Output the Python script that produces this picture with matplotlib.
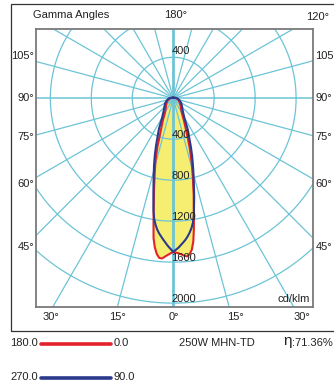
import numpy as np
import matplotlib
matplotlib.use("Agg")
import matplotlib.pyplot as plt
from matplotlib.lines import Line2D
from matplotlib.patches import Rectangle

plt.rcParams["font.family"] = ["Liberation Sans", "DejaVu Sans"]

# ── data (cd/klm vs gamma angle) ─────────────────────────
gamma = [0, 2, 4, 5, 6, 7, 8, 9, 10, 12, 14, 16, 18, 20, 25, 30,
         40, 50, 60, 75, 90, 120, 150, 180]

c0   = [1500, 1515, 1540, 1550, 1530, 1490, 1410, 1290, 1160, 960, 790, 655,
        530, 420, 255, 170, 115, 90, 70, 50, 30, 10, 5, 5]
c180 = [1500, 1530, 1568, 1565, 1530, 1470, 1380, 1230, 1100, 900, 745, 625,
        500, 380, 240, 160, 110, 90, 70, 50, 30, 10, 5, 5]
c90  = [1500, 1460, 1410, 1385, 1355, 1320, 1280, 1230, 1160, 985, 830, 705,
        600, 505, 335, 215, 140, 110, 90, 60, 40, 12, 6, 5]
c270 = [1500, 1445, 1385, 1355, 1325, 1290, 1245, 1190, 1110, 930, 790, 680,
        580, 490, 330, 215, 140, 110, 90, 60, 40, 12, 6, 5]

rings = [400, 800, 1200, 1600, 2000]
left_labels = ["105°", "90°", "75°", "60°", "45°"]
bottom_labels = ["30°", "15°", "0°", "15°", "30°"]
lamp = "250W MHN-TD"
efficiency = ":71.36%"

GRID = "#6cc4d6"
RED = "#e2222b"
BLUE = "#2c3a8e"
YELLOW = "#f6ee70"

W, H = 334, 390


def px(x, y):
    """pixel coords (top-left origin) -> figure fraction"""
    return x / W, 1 - y / H


def curve(left, right):
    g = np.radians(gamma)
    l = np.asarray(left, float)
    r = np.asarray(right, float)
    xl, yl = -l * np.sin(g), -l * np.cos(g)
    xr, yr = r * np.sin(g), -r * np.cos(g)
    return np.r_[xl[::-1], xr], np.r_[yl[::-1], yr]


fig = plt.figure(figsize=(W / 100, H / 100), dpi=100)

# outer frame
fig.add_artist(Rectangle(px(11, 330.7), 1.0, (330.7 - 4) / H,
                         transform=fig.transFigure, fill=False,
                         edgecolor="#333333", lw=0.9))

x0, y0 = px(36, 306.7)
ax = fig.add_axes([x0, y0, (313 - 36) / W, (306.7 - 29) / H])
ax.set_xlim(-1340, 1365)
ax.set_ylim(-2035, 676)
ax.set_xticks([])
ax.set_yticks([])
for s in ax.spines.values():
    s.set_color("#7a7a7a")
    s.set_linewidth(1.3)

# yellow fill (C0-C180)
xr, yr = curve(c180, c0)
ax.fill(xr, yr, color=YELLOW, zorder=1, lw=0)

# polar grid
t = np.linspace(0, 2 * np.pi, 400)
for R in rings:
    ax.plot(R * np.cos(t), R * np.sin(t), color=GRID, lw=0.9, zorder=2)
for a in range(0, 180, 15):
    th = np.radians(a)
    lw = 2.0 if a == 90 else (1.1 if a == 0 else 0.9)
    ax.plot([-4000 * np.cos(th), 4000 * np.cos(th)],
            [-4000 * np.sin(th), 4000 * np.sin(th)],
            color=GRID, lw=lw, zorder=2)

# curves
ax.plot(xr, yr, color=RED, lw=1.5, zorder=3)
xb, yb = curve(c270, c90)
ax.plot(xb, yb, color=BLUE, lw=1.5, zorder=4)

# ring labels
ax.text(-16, 459, "400", fontsize=8, ha="left", va="center", color="#222222", zorder=5)
for R in rings:
    ax.text(-16, -(R - 38), str(R), fontsize=8, ha="left", va="center",
            color="#222222", zorder=5)
ax.text(1333, -1960, "cd/klm", fontsize=8, ha="right", va="center", color="#222222")

# angle labels around the box
fs = 8
fig.text(*px(33, 15), "Gamma Angles", fontsize=fs, ha="left", va="center", color="#222222")
fig.text(*px(175.5, 15), "180°", fontsize=fs, ha="center", va="center", color="#222222")
fig.text(*px(306, 17), "120°", fontsize=fs, ha="left", va="center", color="#222222")
for lab, y in zip(left_labels, [56, 98, 137.3, 184, 247.3]):
    fig.text(*px(34.3, y), lab, fontsize=fs, ha="right", va="center", color="#222222")
    fig.text(*px(315.3, y), lab, fontsize=fs, ha="left", va="center", color="#222222")
for lab, x in zip(bottom_labels, [50.5, 117, 174, 235.5, 302]):
    fig.text(*px(x, 317), lab, fontsize=fs, ha="center", va="center", color="#222222")

# legend
fig.text(*px(10, 343), "180.0", fontsize=fs, ha="left", va="center", color="#222222")
fig.add_artist(Line2D([41 / W, 111 / W], [1 - 344 / H] * 2, color=RED, lw=2.6,
                      solid_capstyle="round", transform=fig.transFigure))
fig.text(*px(113.5, 343), "0.0", fontsize=fs, ha="left", va="center", color="#222222")
fig.text(*px(10, 377), "270.0", fontsize=fs, ha="left", va="center", color="#222222")
fig.add_artist(Line2D([41 / W, 111 / W], [1 - 377.5 / H] * 2, color=BLUE, lw=2.6,
                      solid_capstyle="round", transform=fig.transFigure))
fig.text(*px(113.5, 377), "90.0", fontsize=fs, ha="left", va="center", color="#222222")
fig.text(*px(179.3, 343), lamp, fontsize=fs, ha="left", va="center", color="#222222")
fig.text(*px(283.5, 341.5), "η", fontsize=11, ha="left", va="center", color="#222222")
fig.text(*px(292, 343), efficiency, fontsize=fs, ha="left", va="center", color="#222222")

fig.savefig("out.png", dpi=100)
